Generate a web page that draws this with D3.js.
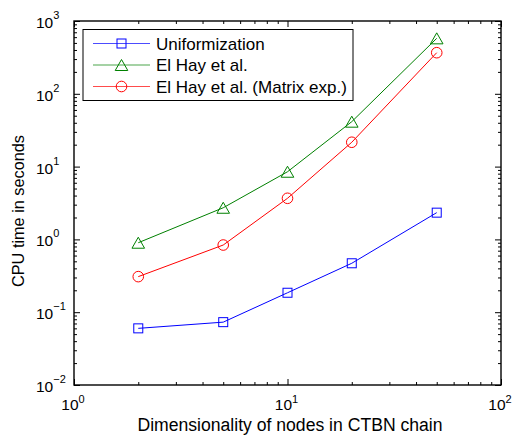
<!DOCTYPE html>
<html>
<head>
<meta charset="utf-8">
<script src="https://cdn.jsdelivr.net/npm/d3@7"></script>
<style>
  html, body { margin: 0; padding: 0; background: #fff; }
  svg { display: block; }
  text { font-family: "Liberation Sans", Arial, sans-serif; fill: #000; }
</style>
</head>
<body>
<div id="chart"></div>
<script>
// ---- data ----
const dims = [2, 5, 10, 20, 50];
const uniformization = [0.060, 0.073, 0.185, 0.47, 2.33];
const elHay = [0.90, 2.72, 8.5, 41.4, 578];
const elHayMatrixExp = [0.308, 0.837, 3.67, 21.6, 367];
const seriesNames = ["Uniformization", "El Hay et al.", "El Hay et al. (Matrix exp.)"];
const xTickValues = [1, 10, 100];
const xTickExponents = ["0", "1", "2"];
const yTickValues = [0.01, 0.1, 1, 10, 100, 1000];
const yTickExponents = ["\u22122", "\u22121", "0", "1", "2", "3"];
const xLabel = "Dimensionality of nodes in CTBN chain";
const yLabel = "CPU time in seconds";

// ---- layout ----
const W = 515, H = 435;
const L = 74, R = 501, T = 21, B = 385;

const svg = d3.select("#chart").append("svg").attr("width", W).attr("height", H);

const x = d3.scaleLog().domain([1, 100]).range([L, R]);
const y = d3.scaleLog().domain([0.01, 1000]).range([B, T]);

const series = [
  { name: seriesNames[0], values: uniformization, color: "#0000ff", marker: "square" },
  { name: seriesNames[1], values: elHay, color: "#008000", marker: "triangle" },
  { name: seriesNames[2], values: elHayMatrixExp, color: "#ff0000", marker: "circle" }
];

// minor tick values
function minorTicks(lo, hi) {
  const out = [];
  for (let d = lo; d < hi; d *= 10) {
    for (let k = 2; k <= 9; k++) out.push(d * k);
  }
  return out;
}
const xMinor = minorTicks(1, 100);
const yMinor = minorTicks(0.01, 1000);

// axes using d3 axis generators (ticks inward)
const majorLen = 6, minorLen = 3;
function drawAxis(gen, transform) {
  const g = svg.append("g").attr("transform", transform).call(gen);
  g.selectAll(".domain").remove();
  g.selectAll("text").remove();
  g.selectAll("line").attr("stroke", "#000").attr("stroke-width", 1);
  return g;
}
// bottom
drawAxis(d3.axisBottom(x).tickValues(xTickValues).tickSize(-majorLen), `translate(0,${B})`);
drawAxis(d3.axisBottom(x).tickValues(xMinor).tickSize(-minorLen), `translate(0,${B})`);
// top
drawAxis(d3.axisTop(x).tickValues(xTickValues).tickSize(-majorLen), `translate(0,${T})`);
drawAxis(d3.axisTop(x).tickValues(xMinor).tickSize(-minorLen), `translate(0,${T})`);
// left
drawAxis(d3.axisLeft(y).tickValues(yTickValues).tickSize(-majorLen), `translate(${L},0)`);
drawAxis(d3.axisLeft(y).tickValues(yMinor).tickSize(-minorLen), `translate(${L},0)`);
// right
drawAxis(d3.axisRight(y).tickValues(yTickValues).tickSize(-majorLen), `translate(${R},0)`);
drawAxis(d3.axisRight(y).tickValues(yMinor).tickSize(-minorLen), `translate(${R},0)`);

// box
svg.append("rect").attr("x", L).attr("y", T).attr("width", R - L).attr("height", B - T)
  .attr("fill", "none").attr("stroke", "#000").attr("stroke-width", 1.4);

// tick labels
const tickFont = 15.5, supFont = 11;
xTickValues.forEach((v, i) => {
  const t = svg.append("text").attr("x", x(v) - 1).attr("y", B + 25)
    .attr("text-anchor", "middle").style("font-size", tickFont + "px");
  t.append("tspan").text("10");
  t.append("tspan").attr("dy", -7).style("font-size", supFont + "px").text(xTickExponents[i]);
});
yTickValues.forEach((v, i) => {
  const t = svg.append("text").attr("x", 36).attr("y", y(v) + 7)
    .attr("text-anchor", "start").style("font-size", tickFont + "px");
  t.append("tspan").text("10");
  t.append("tspan").attr("dy", -9).style("font-size", supFont + "px").text(yTickExponents[i]);
});

// axis labels
svg.append("text").attr("x", 290).attr("y", 431).attr("text-anchor", "middle")
  .style("font-size", "17.6px").text(xLabel);
svg.append("text").attr("transform", `translate(24,211) rotate(-90)`)
  .attr("text-anchor", "middle").style("font-size", "16.3px").text(yLabel);

// markers
function drawMarker(g, type, cx, cy, color) {
  if (type === "square") {
    g.append("rect").attr("x", cx - 4.5).attr("y", cy - 4.5).attr("width", 9).attr("height", 9)
      .attr("fill", "none").attr("stroke", color).attr("stroke-width", 1);
  } else if (type === "circle") {
    g.append("circle").attr("cx", cx).attr("cy", cy).attr("r", 5.3)
      .attr("fill", "none").attr("stroke", color).attr("stroke-width", 1);
  } else {
    const hw = 6.3, h = 11;
    g.append("path")
      .attr("d", `M${cx},${cy - h / 2}L${cx + hw},${cy + h / 2}L${cx - hw},${cy + h / 2}Z`)
      .attr("fill", "none").attr("stroke", color).attr("stroke-width", 1);
  }
}

const line = d3.line().x(d => x(d[0])).y(d => y(d[1]));
series.forEach(s => {
  const pts = dims.map((d, i) => [d, s.values[i]]);
  const g = svg.append("g");
  g.append("path").datum(pts).attr("d", line).attr("fill", "none")
    .attr("stroke", s.color).attr("stroke-width", 1);
  pts.forEach(p => drawMarker(g, s.marker, x(p[0]), y(p[1]), s.color));
});

// legend
const lg = svg.append("g");
lg.append("rect").attr("x", 83).attr("y", 29.5).attr("width", 270).attr("height", 71)
  .attr("fill", "#fff").attr("stroke", "#000").attr("stroke-width", 1);
const rowY = [43.5, 65, 86.5];
series.forEach((s, i) => {
  lg.append("line").attr("x1", 93).attr("x2", 150).attr("y1", rowY[i]).attr("y2", rowY[i])
    .attr("stroke", s.color).attr("stroke-width", 1.2).attr("stroke-opacity", 0.7);
  drawMarker(lg, s.marker, 121.5, rowY[i], s.color);
  lg.append("text").attr("x", 156).attr("y", rowY[i] + 6).style("font-size", "17px").text(s.name);
});
</script>
</body>
</html>
